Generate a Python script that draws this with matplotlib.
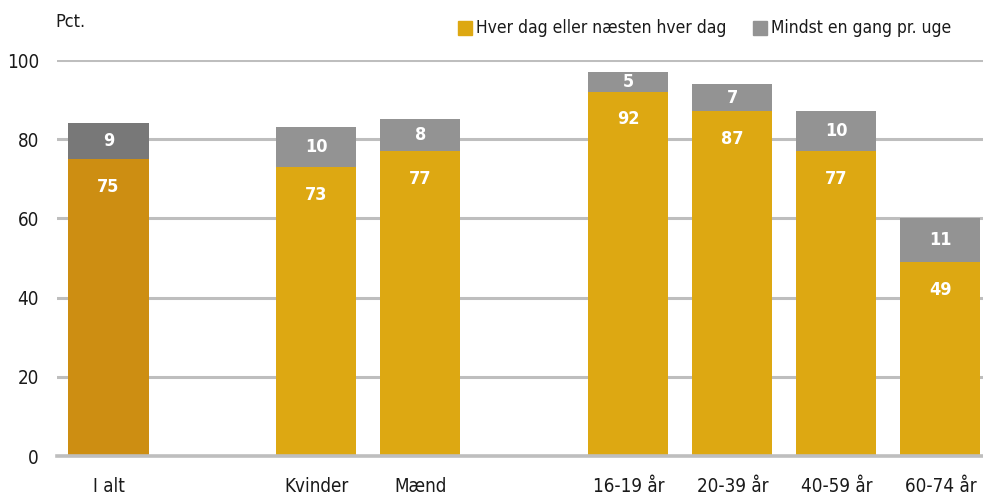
import matplotlib
matplotlib.use("Agg")
import matplotlib.pyplot as plt
from matplotlib.patches import Rectangle

categories = ["I alt", "Kvinder", "Mænd", "16-19 år", "20-39 år", "40-59 år", "60-74 år"]
positions = [0, 2, 3, 5, 6, 7, 8]
daily = [75, 73, 77, 92, 87, 77, 49]
weekly = [9, 10, 8, 5, 7, 10, 11]
legend_labels = ["Hver dag eller næsten hver dag", "Mindst en gang pr. uge"]

GOLD = "#DDA812"
GREY = "#939393"
GOLD_DARK = "#CD8E12"
GREY_DARK = "#787878"
GRID = "#BEBEBE"

plt.rcParams["font.family"] = ["DejaVu Sans"]
plt.rcParams["font.stretch"] = "condensed"

fig = plt.figure(figsize=(9.83, 4.97), dpi=100)
ax = fig.add_axes([57 / 983, 1 - 456 / 497, 1 - 57 / 983, (456 - 60) / 497])

bottom_colors = [GOLD_DARK] + [GOLD] * (len(daily) - 1)
top_colors = [GREY_DARK] + [GREY] * (len(weekly) - 1)
width = 0.77
ax.bar(positions, daily, width=width, color=bottom_colors, zorder=3)
ax.bar(positions, weekly, width=width, bottom=daily, color=top_colors, zorder=3)

for x, d, w in zip(positions, daily, weekly):
    ax.annotate(str(d), (x, d), xytext=(0, -20), textcoords="offset points",
                ha="center", va="center", color="white", fontsize=13,
                fontweight="bold", zorder=4)
    ax.text(x, d + w / 2, str(w), ha="center", va="center", color="white",
            fontsize=13, fontweight="bold", zorder=4)

ax.set_xlim(-0.495, 8.41)
ax.set_ylim(0, 100)
ax.set_yticks(range(0, 101, 20))
ax.set_xticks(positions)
ax.set_xticklabels(categories)
ax.tick_params(axis="both", length=0, labelsize=13.5, colors="#1a1a1a")
ax.tick_params(axis="x", pad=15)
ax.tick_params(axis="y", pad=13)
ax.yaxis.grid(True, color=GRID, linewidth=2.2, zorder=0)
ax.set_axisbelow(True)
for s in ax.spines.values():
    s.set_visible(False)
ax.axhline(0, color=GRID, linewidth=2.6, zorder=5, clip_on=False)

fig.text(55 / 983, 1 - 22 / 497, "Pct.", ha="left", va="center", fontsize=13, color="#1a1a1a")

# legend
for sx, color, label in [(458, GOLD, legend_labels[0]), (753, GREY, legend_labels[1])]:
    fig.patches.append(Rectangle((sx / 983, 1 - 35 / 497), 14 / 983, 14 / 497,
                                 transform=fig.transFigure, color=color))
    fig.text((sx + 18) / 983, 1 - 28 / 497, label, ha="left", va="center",
             fontsize=12.5, color="#1a1a1a")

fig.savefig("out.png", dpi=100)
